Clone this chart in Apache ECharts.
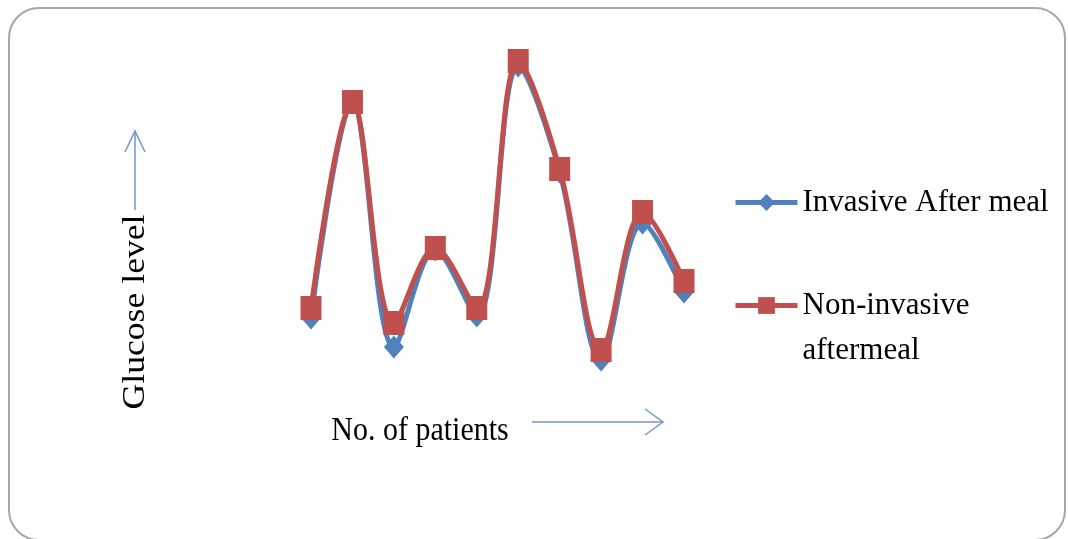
<!DOCTYPE html>
<html>
<head>
<meta charset="utf-8">
<script src="https://cdn.jsdelivr.net/npm/echarts@6/dist/echarts.min.js"></script>
<style>html,body{margin:0;padding:0;background:#fff}#c{width:1068px;height:539px}</style>
</head>
<body>
<div id="c"></div>
<script>
const patients = ['1','2','3','4','5','6','7','8','9','10'];
const invasiveAfterMeal = [122, 337, 93, 190, 124, 374, 268, 80, 217, 148];
const nonInvasiveAfterMeal = [132, 338, 117, 192, 132, 379, 271, 90, 228, 159];
const seriesNames = ['Invasive After meal', 'Non-invasive aftermeal'];
const yTitle = 'Glucose level';
const xTitle = 'No. of patients';

const FONT = "'Liberation Serif', 'Times New Roman', serif";
const chart = echarts.init(document.getElementById('c'), null, {renderer: 'canvas'});
const arrowColor = '#6f97cc';
chart.setOption({
  backgroundColor: '#fff',
  animation: false,
  grid: {left: 311, right: 384, top: 40, height: 400},
  xAxis: {type: 'category', data: patients, boundaryGap: false, show: false},
  yAxis: {type: 'value', min: 0, max: 400, show: false},
  legend: {
    orient: 'vertical', left: 733, top: 180, padding: 0, itemWidth: 62, itemHeight: 21, itemGap: 13,
    lineStyle: {width: 5},
    textStyle: {fontFamily: FONT, fontSize: 31, color: '#000', lineHeight: 45},
    formatter: function (n) { return n === seriesNames[1] ? '\nNon-invasive\naftermeal' : n; },
    data: [seriesNames[0], seriesNames[1]]
  },
  series: [
    {
      name: seriesNames[0], type: 'line', data: invasiveAfterMeal, smooth: 0.35, z: 2,
      symbol: 'diamond', symbolSize: [20, 23],
      lineStyle: {color: '#4F81BD', width: 5},
      itemStyle: {color: '#4F81BD'}
    },
    {
      name: seriesNames[1], type: 'line', data: nonInvasiveAfterMeal, smooth: 0.35, z: 3,
      symbol: 'rect', symbolSize: [21, 24],
      lineStyle: {color: '#C0504D', width: 5},
      itemStyle: {color: '#C0504D'}
    }
  ],
  graphic: [
    {type: 'rect', shape: {x: 9, y: 8, width: 1056, height: 532, r: 30}, style: {fill: 'none', stroke: '#a6a6a6', lineWidth: 2}, z: 0},
    {type: 'text', x: 136, y: 312, rotation: Math.PI / 2, scaleX: 1.15,
     style: {text: yTitle, font: '31px ' + FONT, fill: '#000', align: 'center', verticalAlign: 'middle'}},
    {type: 'text', x: 420, y: 431, scaleY: 1.15,
     style: {text: xTitle, font: '30px ' + FONT, fill: '#000', align: 'center', verticalAlign: 'middle'}},
    {type: 'polyline', shape: {points: [[135, 210], [135, 131]]}, style: {stroke: arrowColor, lineWidth: 1.5, fill: 'none'}},
    {type: 'polyline', shape: {points: [[125, 152], [135, 131], [145, 152]]}, style: {stroke: arrowColor, lineWidth: 1.5, fill: 'none'}},
    {type: 'polyline', shape: {points: [[532, 422], [663, 422]]}, style: {stroke: arrowColor, lineWidth: 1.5, fill: 'none'}},
    {type: 'polyline', shape: {points: [[645, 409], [663, 422], [645, 435]]}, style: {stroke: arrowColor, lineWidth: 1.5, fill: 'none'}}
  ]
});
</script>
</body>
</html>
